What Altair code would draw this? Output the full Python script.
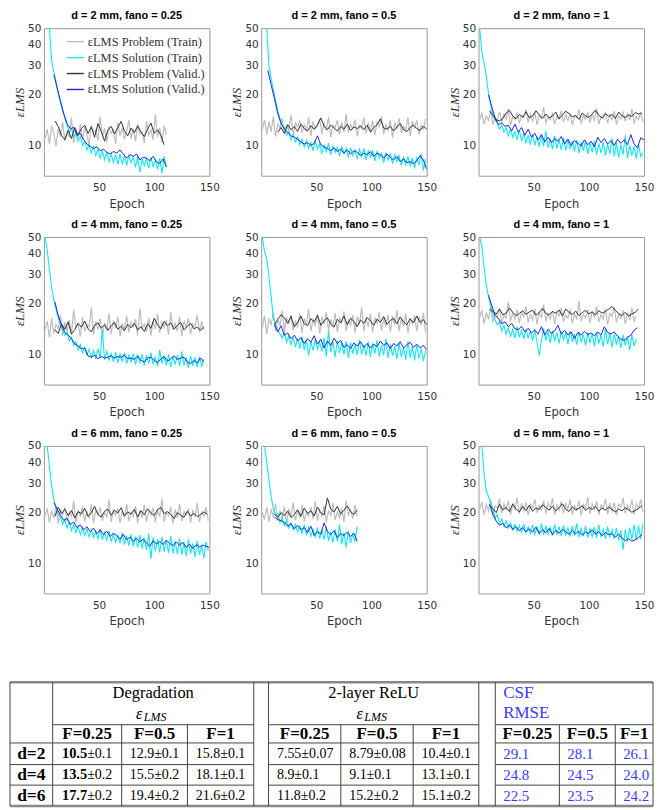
import altair as alt
import pandas as pd

# ---------------- series names / colours ----------------
SERIES = ["εLMS Problem (Train)", "εLMS Solution (Train)",
          "εLMS Problem (Valid.)", "εLMS Solution (Valid.)"]
COLORS = ["#bdbdbd", "#12e6ee", "#333333", "#2424d6"]

TITLES = ["d = 2 mm, fano = 0.25", "d = 2 mm, fano = 0.5", "d = 2 mm, fano = 1",
          "d = 4 mm, fano = 0.25", "d = 4 mm, fano = 0.5", "d = 4 mm, fano = 1",
          "d = 6 mm, fano = 0.25", "d = 6 mm, fano = 0.5", "d = 6 mm, fano = 1"]

TRAIN_STEP = 2   # epochs between plotted training samples
VALID_STEP = 3   # epochs between plotted validation samples

# ---------------- panel 1 : d=2, F=0.25 ----------------
p1_prob_train = [11.0,12.5,10.2,13.1,11.8,9.9,12.6,11.2,13.8,10.6,12.0,11.3,14.6,10.4,12.2,11.0,13.4,10.8,12.9,11.6,
                 10.1,13.2,11.9,12.4,10.7,14.9,11.3,12.7,10.5,13.0,11.8,12.3,10.2,13.7,11.4,12.8,10.9,12.1,14.2,11.0,
                 12.6,10.6,13.3,11.7,12.0,10.3,13.9,11.5,12.4,10.8,15.3,11.2,12.7,10.4,13.1,11.6]
p1_sol_train = [50,32,27.5,24,20.5,18,16,14.5,13.2,12.0,12.5,11.2,11.8,10.6,11.3,10.0,10.6,9.4,
                10.1,9.0,9.8,8.7,9.5,8.4,9.3,8.2,9.1,8.0,8.9,7.9,8.8,7.7,8.9,7.8,8.6,7.6,8.7,7.9,
                8.5,7.4,8.6,6.9,8.3,7.6,8.4,7.3,8.5,7.5,8.2,7.2,8.4,6.8,8.6,7.4]
p1_prob_valid = [14.0,13.0,11.5,10.8,12.3,11.0,12.8,11.5,12.6,13.2,11.8,12.9,11.2,13.5,12.1,10.6,12.4,13.0,11.7,12.8,
                 13.9,12.2,11.4,12.7,11.9,13.1,12.0,11.3,12.5,13.6,11.8,12.4,11.5,10.1]
p1_sol_valid = [26.5,22,18.5,15.5,13.5,12.6,12.8,11.5,11.8,10.8,10.2,9.9,9.6,9.8,9.3,9.5,9.1,8.9,9.2,9.0,
                9.4,8.9,8.4,8.8,8.6,8.9,8.2,8.5,8.4,8.1,8.6,8.0,7.8,8.3,7.5]
p1_starts = [1, 5, 10, 9]   # first epoch of: problem train, solution train, problem valid, solution valid

# ---------------- panel 2 : d=2, F=0.5 ----------------
p2_prob_train = [12.5,14.2,11.6,13.8,12.1,14.9,11.3,13.4,12.7,14.5,11.8,13.1,12.4,15.2,11.5,13.6,12.9,14.0,11.9,13.3,
                 12.2,14.7,11.4,13.9,12.6,13.0,14.4,11.7,13.5,12.3,14.8,11.2,13.2,12.8,14.1,11.6,13.7,12.0,15.4,11.9,
                 13.4,12.5,14.3,11.3,13.1,12.7,14.6,11.8,13.5,12.2,14.0,11.5,13.8,12.9,14.9,11.7,13.3,12.4,14.2,11.1,
                 13.6,12.6,14.5,11.9,13.0,12.3,14.7,11.4,13.9,12.8,14.1,11.6,13.2,12.5,14.4]
p2_sol_train = [50,30,25,21.5,18.5,16,14.5,13.2,12.9,11.5,12.2,10.8,11.6,10.5,11.2,10.1,10.9,9.8,
                10.7,9.6,10.4,9.3,10.6,9.5,10.2,9.0,10.0,9.2,10.3,8.8,9.9,9.1,9.7,8.6,9.8,8.9,9.6,8.5,
                9.7,8.7,9.4,8.3,9.5,8.6,9.6,8.2,9.3,8.5,9.4,8.1,9.2,8.4,9.0,7.9,9.1,8.2,8.9,7.8,
                8.8,8.0,8.7,7.6,8.5,7.7,8.6,7.5,8.4,7.3,8.5,7.6,8.9,7.1,8.3]
p2_prob_valid = [12.0,12.8,11.8,13.3,12.4,13.0,12.1,13.4,12.6,12.2,13.1,12.5,13.3,14.6,13.0,12.4,13.2,12.7,12.2,13.0,
                 12.5,13.4,12.3,12.9,12.6,13.1,12.4,13.2,12.0,12.8,13.3,14.4,12.7,12.5,13.0,12.2,12.9,13.5,12.4,12.1,
                 12.8,13.2,12.6,12.3,13.0,12.5]
p2_sol_valid = [28,23,19,15.5,13.5,12.5,12.0,11.4,11.2,10.9,10.5,10.2,10.4,10.0,10.3,11.4,10.1,9.8,9.6,9.3,
                9.7,9.2,9.5,9.0,9.4,8.9,9.3,9.1,8.7,9.0,8.8,9.2,8.6,9.0,8.8,8.4,8.9,8.5,8.2,8.6,
                8.0,8.3,7.9,8.0,7.8,8.1,8.7,8.2,7.2]
p2_starts = [1, 5, 15, 6]

# ---------------- panel 3 : d=2, F=1 ----------------
p3_prob_train = [14.2,15.6,13.4,15.0,14.1,16.2,13.3,14.8,14.0,15.9,13.6,15.3,14.4,16.6,13.2,14.9,14.3,15.7,13.5,15.1,
                 14.6,16.4,13.7,15.4,14.0,15.8,13.3,15.2,14.5,16.9,13.6,14.7,14.2,15.5,13.4,15.0,14.4,16.1,13.8,15.3,
                 14.1,15.6,13.2,14.9,14.6,16.3,13.5,15.1,14.3,15.9,13.7,15.4,14.0,16.7,13.4,14.8,14.5,15.7,13.6,15.2,
                 14.2,16.0,13.3,15.0,14.4,15.8,13.9,15.5,14.1,16.5,13.5,14.9,14.3,15.6,13.8]
p3_sol_train = [50,36,31,26,20.5,17.5,15,14.2,13.6,12.5,13.2,12.0,12.8,11.4,12.5,11.2,12.1,10.8,12.3,10.6,
                11.8,10.3,11.5,10.1,11.7,10.0,11.3,9.8,11.6,9.9,12.2,9.7,11.0,9.5,11.4,9.6,10.8,9.4,11.1,9.3,
                10.9,9.5,10.6,9.2,10.8,9.0,10.5,9.3,10.7,8.9,10.4,9.1,10.6,8.8,10.3,9.0,10.5,8.7,10.2,8.9,
                11.0,8.6,10.4,8.5,10.1,8.8,11.5,8.4,10.0,8.7,9.9,8.3,10.2,8.6,9.0]
p3_prob_valid = [16.0,15.2,14.2,14.0,14.5,15.6,16.2,15.0,14.4,15.3,14.7,15.9,14.6,15.0,16.1,15.2,14.5,15.4,14.6,15.0,
                 15.8,14.4,15.2,16.0,15.5,14.8,15.1,14.3,15.6,15.0,14.7,15.4,16.2,15.1,14.6,15.5,14.9,15.3,14.5,15.8,
                 15.0,14.7,15.2,14.9,15.7,15.4,15.6]
p3_sol_valid = [20,17,14.5,13.3,13.6,13.0,13.2,12.2,13.4,12.0,12.8,11.5,12.5,11.2,11.8,10.8,11.6,10.5,11.2,10.4,
                11.0,10.6,11.3,10.2,10.9,10.0,10.7,10.3,9.9,10.8,10.1,10.6,9.8,11.2,10.4,11.0,10.2,10.7,10.0,10.9,
                10.3,10.8,10.1,11.6,10.2,9.7,11.1,10.8]
p3_starts = [1, 1, 10, 9]

# ---------------- panel 4 : d=4, F=0.25 ----------------
p4_prob_train = [14.0,15.8,12.6,16.4,13.3,15.1,14.2,17.2,12.9,15.5,13.8,16.0,13.1,18.5,14.4,15.2,12.8,16.6,13.7,15.0,
                 14.6,19.0,13.0,15.7,14.1,16.3,12.7,15.4,13.9,17.5,13.2,15.9,14.3,16.8,12.8,15.3,14.0,17.0,13.5,15.6,
                 14.5,16.2,13.0,18.8,14.2,15.1,13.6,16.5,12.9,15.8,14.1,17.3,13.4,15.5,14.4,16.0,13.1,17.9,14.0,15.3,
                 13.7,16.7,12.8,15.9,14.3,16.4,13.2,15.2,14.6,17.1,13.5,15.7,14.0]
p4_sol_train = [50,42,32,25,21,18.5,16.5,15,13.8,13.0,13.6,12.0,12.6,11.3,11.9,10.6,11.4,10.2,11.0,9.9,
                10.7,9.6,10.5,9.4,10.8,9.5,14.0,9.3,10.4,9.2,10.1,9.0,10.3,8.9,10.0,9.1,10.2,8.8,9.9,9.0,
                10.1,8.7,9.8,8.9,10.0,8.6,9.9,8.8,10.2,8.7,9.7,8.5,10.6,8.8,9.8,8.6,10.0,8.4,9.7,8.7,
                9.9,8.5,10.4,8.6,9.6,8.3,9.8,8.6,9.5,8.4,9.7,8.5,9.4]
p4_prob_valid = [14.0,13.3,15.2,14.1,15.6,13.2,14.0,15.3,14.5,15.8,14.2,13.6,14.9,15.4,14.3,15.0,13.9,14.8,15.5,14.1,
                 14.7,13.8,15.1,14.4,15.3,14.0,14.6,13.7,15.2,14.3,16.4,15.0,14.2,15.7,14.8,15.4,14.1,14.9,15.5,14.0,
                 14.7,15.3,14.2,14.5,13.9,14.6]
p4_sol_valid = [20.5,17,15,13.5,13.0,12.4,11.5,11.2,10.8,10.9,9.8,9.6,9.9,9.4,9.7,9.5,9.6,9.8,9.5,9.7,
                9.6,9.9,9.4,9.5,9.3,9.8,9.2,9.0,9.5,9.6,9.2,8.9,9.4,9.7,9.1,9.4,9.8,9.3,9.5,9.6,
                9.0,8.8,9.2,8.9,9.5,9.0]
p4_starts = [1, 1, 10, 10]

# ---------------- panel 5 : d=4, F=0.5 ----------------
p5_prob_train = [14.5,17.0,13.2,16.3,15.1,17.8,13.8,16.0,14.9,18.2,13.5,16.6,15.3,17.2,13.9,15.8,14.6,17.5,13.4,16.4,
                 15.0,18.6,13.7,16.1,14.8,17.3,13.3,16.7,15.2,17.9,13.9,16.2,14.7,17.6,13.6,16.5,15.4,18.0,13.8,16.0,
                 14.9,17.1,13.4,16.8,15.1,19.0,13.7,16.3,14.6,17.4,13.5,16.6,15.3,17.8,13.9,16.1,14.8,17.2,13.6,16.9,
                 15.0,18.3,13.8,16.4,14.7,17.5,13.4,16.2,15.2,17.0,13.7,16.8,14.9,17.7,13.5]
p5_sol_train = [50,41,37,29,22,16.5,15,14.0,13.2,12.5,13.4,11.8,12.9,11.4,12.6,11.0,12.4,10.8,12.7,10.6,
                12.2,9.8,12.0,10.5,12.3,10.7,11.8,10.4,12.5,9.7,13.8,10.3,11.9,9.6,12.1,10.2,11.7,10.0,12.0,9.5,
                11.8,10.1,11.5,9.9,12.2,10.0,11.4,9.8,11.9,9.6,11.6,10.1,12.1,9.7,11.3,9.9,12.4,9.5,11.5,9.8,
                11.2,9.4,11.7,9.6,11.0,9.3,12.0,9.5,11.1,9.2,11.4,9.4,10.8,9.1,10.5]
p5_prob_valid = [15.0,16.2,17.2,16.5,15.3,16.8,14.6,15.5,16.9,15.2,14.8,16.3,15.6,17.1,14.9,15.8,16.5,15.1,14.5,16.2,
                 15.4,16.9,15.0,16.4,15.7,14.6,16.0,15.3,16.6,15.8,14.9,16.2,15.5,16.8,15.1,15.9,16.4,15.2,16.7,15.6,
                 15.0,16.3,15.4,16.9,15.5,16.1,15.0]
p5_sol_valid = [15.0,13.6,14.8,13.0,13.4,12.4,13.0,12.0,12.6,11.6,12.4,11.8,12.9,11.5,12.3,10.9,12.0,11.3,12.5,11.6,
                12.1,11.0,11.4,10.8,11.7,11.2,11.9,11.0,11.6,10.9,11.5,11.1,12.0,11.3,11.7,10.8,11.6,11.2,11.9,10.9,
                11.4,11.8,11.0,11.5,10.9,11.3,10.6]
p5_starts = [1, 1, 12, 12]

# ---------------- panel 6 : d=4, F=1 ----------------
p6_prob_train = [16.5,18.4,15.2,17.8,16.1,19.2,15.6,17.5,16.8,18.9,15.3,17.2,16.4,20.5,15.8,17.6,16.2,18.5,15.4,17.9,
                 16.7,19.3,15.5,17.3,16.0,18.7,15.1,17.7,16.6,19.8,15.7,17.4,16.3,18.2,15.2,17.8,16.9,19.0,15.6,17.1,
                 16.4,18.6,15.3,17.5,16.1,20.8,15.8,17.3,16.5,18.4,15.4,17.9,16.7,19.4,15.6,17.2,16.2,18.8,15.0,17.6,
                 16.8,19.1,15.5,17.4,16.3,18.3,15.2,17.7,16.0,18.9,15.7,17.0]
p6_sol_train = [50,44,33,26,22,19.5,17.5,16,15,15.6,13.8,14.9,13.2,14.4,12.8,14.1,12.5,14.6,12.6,13.9,
                12.3,14.2,12.4,13.8,12.0,14.0,11.8,9.8,12.2,14.3,12.1,13.6,11.7,13.9,12.0,13.5,11.6,13.7,12.2,13.4,
                11.5,13.8,11.9,13.2,11.4,13.6,11.8,13.1,11.3,13.5,11.7,13.3,11.2,13.6,11.6,13.0,11.1,14.2,11.5,13.4,
                11.0,13.2,11.4,12.9,10.9,13.1,11.3,12.8,10.6,13.0,11.2,12.4]
p6_prob_valid = [18.5,18.0,17.4,18.6,17.2,17.6,18.9,17.8,17.0,17.5,18.2,17.3,17.9,18.3,17.1,17.7,18.8,17.5,17.2,18.0,
                 17.6,18.4,16.9,18.6,17.8,17.3,18.1,17.0,17.7,18.3,17.4,17.9,17.2,18.2,17.6,18.0,18.6,19.3,18.3,17.5,
                 17.0,17.8,16.9,17.4,17.8,18.6]
p6_sol_valid = [22.5,19.5,17.0,16.4,15.2,15.6,14.6,15.3,14.2,14.0,14.7,13.6,14.3,13.4,14.0,13.2,14.6,13.0,14.1,13.3,
                13.8,14.9,13.2,13.9,13.0,13.6,12.4,13.5,13.0,13.7,13.1,13.4,12.9,13.6,13.0,14.6,13.5,13.2,13.6,12.8,
                12.3,12.1,12.6,13.0,13.9,14.4]
p6_starts = [1, 1, 10, 9]

# ---------------- panel 7 : d=6, F=0.25 ----------------
p7_prob_train = [19.0,21.2,17.5,20.4,18.6,22.0,17.2,20.8,19.3,21.6,17.8,20.1,18.9,23.5,17.4,20.6,19.1,21.8,17.7,20.3,
                 18.5,22.4,17.3,20.9,19.4,21.5,17.9,20.0,18.8,23.9,17.6,20.7,19.2,21.3,17.4,20.5,18.7,22.6,17.8,20.2,
                 19.0,21.9,17.3,20.8,18.6,22.2,17.7,20.4,19.3,21.4,17.5,20.6,18.9,24.2,17.6,20.1,19.1,21.7,17.2,20.9,
                 18.7,22.5,17.8,20.3,19.4,21.1,17.4,20.7,18.8,22.8,17.6,20.2,19.0,21.6,17.9]
p7_sol_train = [50,38,29,24,21,19.5,18.8,17.0,18.2,16.2,17.5,15.6,17.0,15.2,16.6,14.8,16.3,14.6,16.0,
                14.3,15.8,14.2,15.5,14.0,15.9,13.8,15.3,13.6,15.6,13.4,15.0,13.2,14.8,13.1,15.2,12.9,14.6,12.7,14.9,
                12.6,14.4,12.4,14.7,12.2,14.1,12.0,15.0,10.6,14.2,11.8,13.9,11.6,14.3,11.7,13.7,11.5,14.5,11.4,13.5,
                11.3,14.0,11.2,13.3,11.0,13.8,11.4,13.1,10.9,13.6,11.2,12.8,10.7,13.4,11.9]
p7_prob_valid = [19.0,21.5,19.8,21.0,19.2,20.6,18.6,20.3,19.7,21.2,19.0,20.0,21.8,19.5,18.8,20.4,21.0,19.3,20.7,19.9,
                 21.4,19.1,20.2,19.6,20.9,18.9,20.5,19.4,21.1,20.0,19.2,20.8,21.5,19.7,20.3,19.5,18.5,20.0,19.3,18.8,
                 20.4,19.1,19.8,18.9,19.5,20.2,19.6]
p7_sol_valid = [23,21,19.3,18.0,18.5,17.0,17.6,16.3,16.9,15.8,16.5,15.4,16.2,15.0,15.8,14.8,15.5,14.4,15.1,14.6,
                13.9,14.8,13.8,14.3,13.5,14.1,13.4,13.9,13.2,12.6,13.6,13.0,13.5,12.9,13.7,13.1,12.7,13.4,12.8,13.3,
                12.4,13.0,12.2,12.9,12.5,12.8,12.6,12.4]
p7_starts = [1, 3, 10, 9]

# ---------------- panel 8 : d=6, F=0.5 ----------------
p8_prob_train = [20.0,18.2,21.5,17.6,20.8,19.1,22.6,17.9,20.4,18.5,21.8,17.4,20.9,19.3,23.0,18.0,20.6,18.7,22.2,17.7,
                 20.3,19.0,21.6,18.3,23.4,17.8,20.7,18.9,21.9,17.5,20.5,19.2,22.8,18.1,20.2,18.6,21.4,17.6,23.6,19.4,
                 20.8,18.4,22.3,19.0]
p8_sol_train = [50,40,31,25,21,19.5,19.8,17.5,18.6,16.8,18.0,16.2,17.4,15.8,17.0,15.4,16.6,15.0,16.9,
                14.8,16.4,14.5,16.0,14.2,16.3,14.0,15.8,13.8,16.5,13.6,15.4,13.3,15.9,13.5,17.0,13.0,15.2,12.4,15.6,
                13.2,14.9,13.4,16.5]
p8_prob_valid = [19.5,18.8,20.0,19.2,20.4,18.7,19.5,20.8,19.0,21.3,19.8,20.5,19.1,21.6,20.0,19.4,24.5,21.0,20.2,21.8,
                 19.6,20.7,21.9,20.3,19.5,20.8]
p8_sol_valid = [18.8,18.2,17.9,17.5,16.6,17.2,16.0,16.8,15.8,16.3,15.2,16.6,14.6,15.4,14.9,17.4,15.5,14.8,15.6,14.2,
                15.0,14.6,15.3,14.4,15.1,13.5]
p8_starts = [1, 3, 12, 12]

# ---------------- panel 9 : d=6, F=1 ----------------
p9_prob_train = [21.0,23.2,19.5,22.4,20.6,23.8,19.2,22.0,21.3,24.3,19.8,22.6,20.9,23.5,19.4,22.2,21.1,24.6,19.7,22.8,
                 20.5,23.1,19.3,22.5,21.4,24.0,19.9,22.1,20.8,23.7,19.6,22.9,21.2,24.4,19.4,22.3,20.7,23.3,19.8,22.7,
                 21.0,24.1,19.5,22.0,20.6,23.6,19.2,22.4,21.3,24.8,19.7,22.6,20.9,23.4,19.4,22.2,21.1,24.2,19.6,22.8,
                 20.4,23.0,19.3,22.5,21.5,24.5,19.8,22.1,20.7,23.9,19.5,22.7,21.2,24.0,20.1]
p9_sol_train = [50,34,27,25,23,21,18.5,19.5,17.2,18.4,16.6,17.8,16.2,17.4,15.8,17.0,15.5,16.8,15.3,
                17.1,15.1,16.5,15.0,16.9,14.8,16.4,15.0,17.2,14.7,16.6,14.9,16.3,14.6,17.0,14.8,16.5,14.5,16.8,14.7,
                16.2,14.4,16.6,14.6,17.3,14.3,16.1,14.5,16.7,14.2,16.0,14.4,16.4,14.1,16.9,14.3,15.9,14.0,16.5,14.2,
                15.8,13.9,16.2,13.6,15.7,12.0,15.9,13.5,16.3,13.8,17.0,13.6,16.8,13.9,17.2]
p9_prob_valid = [22.0,21.2,20.0,22.4,20.8,21.5,20.3,22.6,21.0,20.2,21.8,20.6,22.1,20.4,21.3,20.9,22.3,21.5,20.7,21.9,
                 20.5,21.4,22.6,21.0,20.3,21.7,20.8,21.2,22.0,20.6,21.5,20.9,21.8,20.4,21.3,20.7,21.6,20.9,20.2,21.0,
                 20.5,21.4,20.8,20.1,20.6,21.2,22.0]
p9_sol_valid = [22.5,19.5,17.8,16.8,17.3,16.2,16.9,15.9,16.5,15.6,16.3,15.4,16.0,15.3,16.4,15.0,15.8,15.2,16.1,14.8,
                15.7,15.1,15.9,15.4,14.9,15.6,15.0,15.5,14.7,15.3,15.0,15.8,14.9,15.4,14.6,15.2,14.8,15.0,14.3,14.9,
                14.1,13.6,14.0,13.5,13.8,14.2,14.8]
p9_starts = [1, 3, 10, 10]

# ---------------- axis ticks ----------------
X_TICKS = [50, 100, 150]
Y_TICKS = [10, 20, 30, 40, 50]

# ---------------- table contents ----------------
group_names = ["Degradation", "2-layer ReLU"]
csf_header = ["CSF", "RMSE"]
row_labels = ["d=2", "d=4", "d=6"]
f_labels = ["F=0.25", "F=0.5", "F=1"]
deg_best = ["10.5", "13.5", "17.7"]
deg_best_err = ["±0.1", "±0.2", "±0.2"]
deg_other = [["12.9±0.1", "15.8±0.1"], ["15.5±0.2", "18.1±0.1"], ["19.4±0.2", "21.6±0.2"]]
relu_vals = [["7.55±0.07", "8.79±0.08", "10.4±0.1"], ["8.9±0.1", "9.1±0.1", "13.1±0.1"],
             ["11.8±0.2", "15.2±0.2", "15.1±0.2"]]
csf_vals = [["29.1", "28.1", "26.1"], ["24.8", "24.5", "24.0"], ["22.5", "23.5", "24.2"]]

# ================= panels =================
PANELS = [
    (p1_prob_train, p1_sol_train, p1_prob_valid, p1_sol_valid, p1_starts),
    (p2_prob_train, p2_sol_train, p2_prob_valid, p2_sol_valid, p2_starts),
    (p3_prob_train, p3_sol_train, p3_prob_valid, p3_sol_valid, p3_starts),
    (p4_prob_train, p4_sol_train, p4_prob_valid, p4_sol_valid, p4_starts),
    (p5_prob_train, p5_sol_train, p5_prob_valid, p5_sol_valid, p5_starts),
    (p6_prob_train, p6_sol_train, p6_prob_valid, p6_sol_valid, p6_starts),
    (p7_prob_train, p7_sol_train, p7_prob_valid, p7_sol_valid, p7_starts),
    (p8_prob_train, p8_sol_train, p8_prob_valid, p8_sol_valid, p8_starts),
    (p9_prob_train, p9_sol_train, p9_prob_valid, p9_sol_valid, p9_starts),
]

PW, PH = 166, 148


def make_panel(i):
    prob_tr, sol_tr, prob_va, sol_va, st = PANELS[i]
    specs = [(SERIES[0], prob_tr, st[0], TRAIN_STEP, 1.2), (SERIES[1], sol_tr, st[1], TRAIN_STEP, 1.1),
             (SERIES[2], prob_va, st[2], VALID_STEP, 1.0), (SERIES[3], sol_va, st[3], VALID_STEP, 1.0)]
    if i == 0:
        legend = alt.Legend(orient="top-right", title=None, symbolType="stroke", offset=4, padding=0,
                            labelFont="Liberation Serif", labelFontSize=12.5, labelColor="#333",
                            symbolSize=290, symbolStrokeWidth=1.4, rowPadding=-1, labelOffset=3,
                            labelLimit=220)
    else:
        legend = None
    layers = []
    for name, vals, start, step, sw in specs:
        df = pd.DataFrame({"Epoch": [start + step * k for k in range(len(vals))],
                           "err": vals, "series": name})
        layers.append(
            alt.Chart(df).mark_line(clip=True, strokeWidth=sw).encode(
                x=alt.X("Epoch:Q", scale=alt.Scale(domain=[0, 150], nice=False),
                        axis=alt.Axis(values=X_TICKS, title="Epoch", grid=False, ticks=False, domain=False,
                                      labelFlush=False, labelPadding=7, titlePadding=5)),
                y=alt.Y("err:Q", scale=alt.Scale(type="log", domain=[6.6, 50], nice=False),
                        axis=alt.Axis(values=Y_TICKS, format="d", title="εLMS", grid=False, ticks=False,
                                      domain=False, labelOverlap=False, labelPadding=3, titlePadding=1,
                                      titleFont="Liberation Serif", titleFontStyle="italic",
                                      titleFontSize=13)),
                color=alt.Color("series:N", scale=alt.Scale(domain=SERIES, range=COLORS), legend=legend),
            )
        )
    return alt.layer(*layers).properties(
        width=PW, height=PH,
        title=alt.TitleParams(TITLES[i], font="Liberation Sans", fontSize=11, fontWeight="bold",
                              color="black", offset=2, anchor="middle"))


rows = []
for r in range(3):
    row = alt.hconcat(*[make_panel(r * 3 + c) for c in range(3)], spacing=10)
    row = row.resolve_scale(color="independent").resolve_legend(color="independent")
    rows.append(row)
grid = alt.vconcat(*rows, spacing=7.5).resolve_scale(color="independent").resolve_legend(color="independent")

# ================= table =================
TBL_X0, TBL_X1 = 2.7, 655
TBL_Y0, TBL_Y1 = 682, 806.3
TBL_W = 645          # full drawn width of the table in px
TBL_OVERHANG = 34    # px of the table drawn left of its view origin (under the panels' y axes)
deg_edges = [46, 116, 182.7, 250]
relu_edges = [265, 338.3, 411.7, 478.3]
csf_edges = [495, 560, 616.7, 655]
group_line_y = 724.7
row_line_ys = [743, 764.7, 785.3]
y_group, y_eps, y_f = 693, 713.5, 733.9
y_csf = [693, 713]

units_per_px = (TBL_X1 - TBL_X0) / TBL_W
xs = alt.Scale(domain=[TBL_X0 + TBL_OVERHANG * units_per_px, TBL_X1], nice=False, zero=False)
ys = alt.Scale(domain=[TBL_Y0, TBL_Y1], nice=False, zero=False, reverse=True)
TX = alt.X("x:Q", scale=xs, axis=None)
TY = alt.Y("y:Q", scale=ys, axis=None)


def hrules(rows_, **kw):
    df = pd.DataFrame(rows_, columns=["x", "x2", "y"])
    return alt.Chart(df).mark_rule(**kw).encode(x=TX, x2="x2:Q", y=TY)


def vrules(rows_, **kw):
    df = pd.DataFrame(rows_, columns=["x", "y", "y2"])
    return alt.Chart(df).mark_rule(**kw).encode(x=TX, y=TY, y2="y2:Q")


def texts(rows_, **kw):
    df = pd.DataFrame(rows_, columns=["x", "y", "t"])
    return alt.Chart(df).mark_text(baseline="middle", **kw).encode(x=TX, y=TY, text="t:N")


def centers(e):
    return [(e[k] + e[k + 1]) / 2 for k in range(len(e) - 1)]


row_bounds = row_line_ys + [TBL_Y1]
row_centers = [(row_bounds[k] + row_bounds[k + 1]) / 2 for k in range(3)]
seg_spans = [(TBL_X0, deg_edges[-1]), (relu_edges[0], relu_edges[-1]), (csf_edges[0], csf_edges[-1])]
group_spans = [(deg_edges[0], deg_edges[-1]), (relu_edges[0], relu_edges[-1]), (csf_edges[0], csf_edges[-1])]

thin_h = [(a, b, group_line_y) for a, b in group_spans]
for yy in row_line_ys:
    thin_h += [(a, b, yy) for a, b in seg_spans]
thick_h = [(TBL_X0, TBL_X1, TBL_Y0), (TBL_X0, TBL_X1, TBL_Y1)]
full_v = [(xx, TBL_Y0, TBL_Y1) for xx in [TBL_X0, deg_edges[0], deg_edges[-1], relu_edges[0],
                                          relu_edges[-1], csf_edges[0], TBL_X1]]
inner_v = [(xx, group_line_y, TBL_Y1) for xx in deg_edges[1:-1] + relu_edges[1:-1] + csf_edges[1:-1]]

deg_c, relu_c, csf_c = centers(deg_edges), centers(relu_edges), centers(csf_edges)
g_deg = (deg_edges[0] + deg_edges[-1]) / 2
g_relu = (relu_edges[0] + relu_edges[-1]) / 2

SERIF = "Liberation Serif"
BLUE = "#3a3aff"
tbl_layers = [
    hrules(thin_h, color="#444", strokeWidth=1),
    hrules(thick_h, color="#888", strokeWidth=2.5),
    vrules(full_v, color="#444", strokeWidth=1),
    vrules(inner_v, color="#444", strokeWidth=1),
    texts([(g_deg, y_group, group_names[0]), (g_relu, y_group, group_names[1])],
          font=SERIF, fontSize=16.5, align="center", color="black"),
    texts([(g_deg - 11, y_eps, "ε"), (g_relu - 11, y_eps, "ε")],
          font=SERIF, fontSize=16, fontStyle="italic", align="right", color="black"),
    texts([(g_deg - 9.5, y_eps + 3, "LMS"), (g_relu - 9.5, y_eps + 3, "LMS")],
          font=SERIF, fontSize=12, fontStyle="italic", align="left", color="black"),
    texts([(csf_edges[0] + 8, y_csf[0], csf_header[0]), (csf_edges[0] + 8, y_csf[1], csf_header[1])],
          font=SERIF, fontSize=17, align="left", color=BLUE),
    texts([(cx, y_f, f_labels[k]) for cs in (deg_c, relu_c, csf_c) for k, cx in enumerate(cs)],
          font=SERIF, fontSize=17, fontWeight="bold", align="center", color="black"),
    texts([((TBL_X0 + deg_edges[0]) / 2, row_centers[r], row_labels[r]) for r in range(3)],
          font=SERIF, fontSize=17.5, fontWeight="bold", align="center", color="black"),
    texts([(deg_c[0], row_centers[r], deg_best[r]) for r in range(3)],
          font=SERIF, fontSize=14.5, fontWeight="bold", align="right", color="black"),
    texts([(deg_c[0], row_centers[r], deg_best_err[r]) for r in range(3)],
          font=SERIF, fontSize=14, align="left", color="black"),
    texts([(deg_c[k + 1], row_centers[r], deg_other[r][k]) for r in range(3) for k in range(2)],
          font=SERIF, fontSize=14, align="center", color="black"),
    texts([(relu_edges[k] + 8.5, row_centers[r], relu_vals[r][k]) for r in range(3) for k in range(3)],
          font=SERIF, fontSize=14, align="left", color="black"),
    texts([(csf_edges[k] + 8, row_centers[r], csf_vals[r][k]) for r in range(3) for k in range(3)],
          font=SERIF, fontSize=15, align="left", color=BLUE),
]
table = alt.layer(*tbl_layers).properties(
    width=TBL_W - TBL_OVERHANG, height=TBL_Y1 - TBL_Y0, view=alt.ViewBackground(stroke="transparent"))

chart = alt.vconcat(grid, table, spacing=52).resolve_scale(
    color="independent").resolve_legend(color="independent").properties(padding=0)
chart = chart.configure_view(stroke="#9a9a9a", strokeWidth=1).configure_axis(
    labelFont="DejaVu Sans", labelFontSize=10.5, labelColor="#333",
    titleFont="DejaVu Sans", titleFontSize=11.5, titleFontWeight="normal", titleColor="#333")

chart.save("out.html", embed_options={"renderer": "svg", "actions": False})
